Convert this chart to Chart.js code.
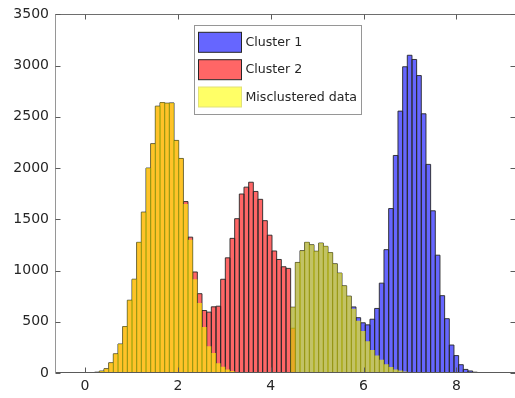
<!DOCTYPE html>
<html>
<head>
<meta charset="utf-8">
<script src="https://cdn.jsdelivr.net/npm/chart.js@4.4.1/dist/chart.umd.min.js"></script>
<style>
html,body{margin:0;padding:0;background:#ffffff;}
#wrap{width:515px;height:398px;position:relative;}
</style>
</head>
<body>
<div id="wrap"><canvas id="c" width="515" height="398"></canvas></div>
<script>
// Histogram bin definition (left edge of first bin, bin width)
const binStart = 0.0075;
const binWidth = 0.1005;

// Counts per bin (bin k covers binStart + k*binWidth .. +binWidth)
const cluster1 = [
  0,0,0,0,0,0,0,0,0,0, 0,0,0,0,0,0,0,0,0,0,
  0,0,0,0,0,0,0,0,0,0, 0,0,0,0,0,0,0,0,0,0,
  0,0,0,0,
  642,1079,1194,1275,1252,1188,1268,1236,1175,1066,975,851,750,
  645,540,490,470,525,630,877,1204,1605,2123,2556,2989,3101,3060,2903,2530,2036,1583,1150,755,530,273,170,81,35,20,8,0,0,3,
  0
];
const cluster2 = [
  0,4,8,19,42,100,187,283,453,710,915,1275,1570,2000,2238,2604,2639,2633,2636,2270,2094,
  1673,1326,986,774,610,594,646,652,915,1124,1314,1506,1747,1814,1862,1772,1695,1487,1345,1191,1108,1037,1021,437,
  0,0,0,0,0,0,0,0,0,0, 0,0,0,0,0,0,0,0,0,0,
  0,0,0,0,0,0,0,0,0,0, 0,0,0,0,0,0,0,0,0,0,
  0,0,0
];
const misclustered = [
  0,4,8,19,42,100,187,283,453,710,915,1275,1570,2000,2238,2604,2639,2633,2636,2270,2094,
  1650,1300,915,684,450,262,195,95,60,35,20,10,6,3,2,
  0,0,0,0,0,0,0,0,
  642,1079,1194,1275,1252,1188,1268,1236,1175,1066,975,851,750,
  628,510,410,310,225,172,130,85,58,35,25,15,8,
  0,0,0,0,0,0,0,0,0,0, 0,0,0,0,0,0,0,0
];
const seriesLabels = ['Cluster 1', 'Cluster 2', 'Misclustered data'];
const xTicks = [0, 2, 4, 6, 8];
const yTicks = [0, 500, 1000, 1500, 2000, 2500, 3000, 3500];
const xRange = [-0.646, 9.240];
const yRange = [0, 3500];

const binCenters = cluster1.map((_, k) => +(binStart + binWidth * (k + 0.5)).toFixed(5));
const toPoints = arr => arr.map((v, k) => ({x: binCenters[k], y: v}));

const edgeColor = 'rgb(38,38,38)';
const textColor = 'rgb(38,38,38)';
const FONT = '"DejaVu Sans", "Liberation Sans", sans-serif';

const datasets = [
  {label: seriesLabels[0], data: toPoints(cluster1), backgroundColor: 'rgba(0,0,255,0.6)',
   order: 3, edge: edgeColor, swatchBorder: 'rgb(38,38,38)'},
  {label: seriesLabels[1], data: toPoints(cluster2), backgroundColor: 'rgba(255,0,0,0.6)',
   order: 2, edge: edgeColor, swatchBorder: 'rgb(38,38,38)'},
  {label: seriesLabels[2], data: toPoints(misclustered), backgroundColor: 'rgba(255,255,0,0.6)',
   order: 1, edge: null, swatchBorder: 'rgb(225,225,120)'}
];

// Outline every bar once (shared edges coincide, like a histogram)
const barEdgesPlugin = {
  id: 'barEdges',
  afterDatasetDraw(chart, args) {
    const ds = chart.data.datasets[args.index];
    if (!ds.edge) return;
    const {ctx, chartArea: a} = chart;
    ctx.save();
    ctx.beginPath();
    ctx.rect(a.left, a.top, a.right - a.left, a.bottom - a.top);
    ctx.clip();
    ctx.strokeStyle = ds.edge;
    ctx.lineWidth = 0.9;
    ctx.beginPath();
    args.meta.data.forEach(el => {
      const p = el.getProps(['x', 'y', 'base', 'width'], true);
      if (Math.abs(p.base - p.y) < 0.01) return;
      const l = p.x - p.width / 2, r = p.x + p.width / 2;
      ctx.moveTo(l, p.base); ctx.lineTo(l, p.y); ctx.lineTo(r, p.y); ctx.lineTo(r, p.base);
    });
    ctx.stroke();
    ctx.restore();
  }
};

const boxAxesPlugin = {
  id: 'boxAxes',
  afterDraw(chart) {
    const {ctx, chartArea: a, scales} = chart;
    ctx.save();
    ctx.lineWidth = 1;
    const L = Math.round(a.left) + 0.5, R = Math.round(a.right) + 0.5;
    const T = Math.round(a.top) + 0.5, B = Math.round(a.bottom) - 0.5;
    const seg = (c, x1, y1, x2, y2) => {
      ctx.strokeStyle = c; ctx.beginPath(); ctx.moveTo(x1, y1); ctx.lineTo(x2, y2); ctx.stroke();
    };
    seg('rgb(215,215,215)', R, T, R, B);
    seg('rgb(150,150,150)', L, T, L, B);
    seg('rgb(110,110,110)', L, T, R, T);
    seg('rgb(90,90,90)', L, B, R, B);
    const tl = 5;
    ctx.strokeStyle = 'rgb(90,90,90)';
    ctx.beginPath();
    xTicks.forEach(v => {
      const px = Math.round(scales.x.getPixelForValue(v)) + 0.5;
      ctx.moveTo(px, B); ctx.lineTo(px, B - tl);
      ctx.moveTo(px, T); ctx.lineTo(px, T + tl);
    });
    yTicks.forEach(v => {
      const py = Math.round(scales.y.getPixelForValue(v)) + 0.5;
      ctx.moveTo(L, py); ctx.lineTo(L + tl, py);
      ctx.moveTo(R, py); ctx.lineTo(R - tl, py);
    });
    ctx.stroke();
    ctx.restore();
  }
};

const boxLegendPlugin = {
  id: 'boxLegend',
  afterDraw(chart) {
    const ctx = chart.ctx;
    ctx.save();
    const x0 = 194.5, y0 = 25.5, w = 167, h = 89;
    ctx.fillStyle = '#ffffff';
    ctx.fillRect(x0, y0, w, h);
    ctx.strokeStyle = 'rgb(150,150,150)';
    ctx.lineWidth = 1;
    ctx.strokeRect(x0, y0, w, h);
    const rowCenters = [42.3, 69.7, 97.0];
    chart.data.datasets.forEach((ds, i) => {
      const cy = rowCenters[i];
      ctx.fillStyle = ds.backgroundColor;
      ctx.fillRect(198.5, cy - 10, 43, 20);
      ctx.strokeStyle = ds.swatchBorder;
      ctx.strokeRect(198.5, cy - 10, 43, 20);
      ctx.fillStyle = textColor;
      ctx.font = '12.6px ' + FONT;
      ctx.textAlign = 'left';
      ctx.textBaseline = 'middle';
      ctx.fillText(ds.label, 245.5, cy + 0.5);
    });
    ctx.restore();
  }
};

new Chart(document.getElementById('c'), {
  type: 'bar',
  data: {datasets},
  options: {
    responsive: false,
    animation: false,
    devicePixelRatio: 1,
    layout: {padding: {left: 0, top: 9, right: 0, bottom: 0}},
    datasets: {bar: {barPercentage: 1, categoryPercentage: 1, inflateAmount: 0, borderWidth: 0}},
    plugins: {legend: {display: false}, tooltip: {enabled: false}},
    scales: {
      x: {
        type: 'linear', stacked: true, offset: false, min: xRange[0], max: xRange[1] + 0.0215,
        grid: {display: false, drawTicks: false, offset: false}, border: {display: false},
        afterBuildTicks: s => { s.ticks = xTicks.map(v => ({value: v})); },
        afterFit: s => { s.height = 25; },
        ticks: {padding: 5, autoSkip: false, maxRotation: 0, color: textColor,
                font: {family: FONT, size: 14}, callback: v => String(v)}
      },
      y: {
        type: 'linear', stacked: false, min: yRange[0], max: yRange[1],
        grid: {display: false, drawTicks: false}, border: {display: false},
        afterBuildTicks: s => { s.ticks = yTicks.map(v => ({value: v})); },
        afterFit: s => { s.width = 55; },
        ticks: {padding: 6, autoSkip: false, color: textColor,
                font: {family: FONT, size: 14}, callback: v => String(v)}
      }
    }
  },
  plugins: [barEdgesPlugin, boxAxesPlugin, boxLegendPlugin]
});
</script>
</body>
</html>
